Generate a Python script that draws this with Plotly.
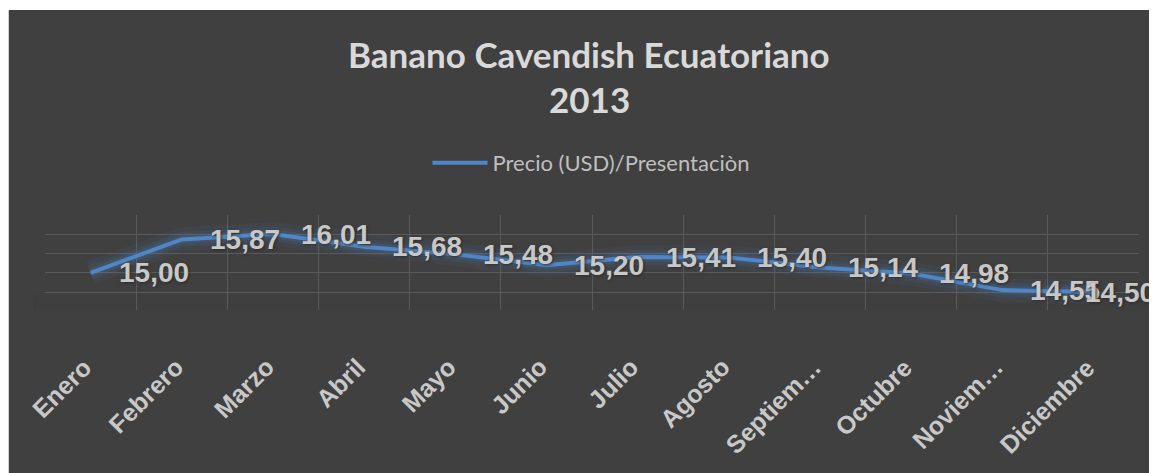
import plotly.graph_objects as go

# --- Data ---
months = ["Enero", "Febrero", "Marzo", "Abril", "Mayo", "Junio",
          "Julio", "Agosto", "Septiembre", "Octubre", "Noviembre", "Diciembre"]
month_labels = ["Enero", "Febrero", "Marzo", "Abril", "Mayo", "Junio",
                "Julio", "Agosto", "Septiem…", "Octubre", "Noviem…", "Diciembre"]
precio = [15.00, 15.87, 16.01, 15.68, 15.48, 15.20,
          15.41, 15.40, 15.14, 14.98, 14.55, 14.50]
grid_vals = [14.5, 15.0, 15.5, 16.0, 16.5]
title_lines = ["Banano Cavendish Ecuatoriano", "2013"]

# --- Layout constants (page pixels; the page body has an 8px margin) ---
OFF = 8
PAGE_W = 1157
VISIBLE_R = PAGE_W - OFF  # right edge that actually shows on screen
W, H = PAGE_W - OFF, 473 - OFF
PLOT_L, PLOT_R, PLOT_T, PLOT_B = 45, 1139, 215, 310
ML, MR = PLOT_L - OFF, W - (PLOT_R - OFF)
MT, MB = PLOT_T - OFF, H - (PLOT_B - OFF)
BG = "#404040"
GRID = "#5a5a5a"
LINE = "#4f86c8"
TXT = "#c8c8c8"
LABEL_FONT = dict(family="Liberation Sans, Arial", size=28, color=TXT,
                  weight="bold", shadow="1px 1px 3px #2a2a2a")
TICK_FONT = dict(family="Liberation Sans, Arial", size=25, color=TXT,
                 weight="bold")

plot_w = W - ML - MR
plot_h = H - MT - MB


def px_x(p):
    # page x -> paper fraction
    return (p - OFF - ML) / plot_w


def px_y(p):
    # page y -> paper fraction
    return (H - MB - (p - OFF)) / plot_h


fig = go.Figure()

# soft glow under the line
for width, alpha in [(24, 0.07), (15, 0.10), (9, 0.14)]:
    fig.add_trace(go.Scatter(
        x=months, y=precio, mode="lines",
        line=dict(color=f"rgba(79,134,200,{alpha})", width=width),
        hoverinfo="skip", showlegend=False))

fig.add_trace(go.Scatter(
    x=months, y=precio, mode="lines",
    name="Precio (USD)/Presentaciòn",
    line=dict(color=LINE, width=4),
    hoverinfo="x+y"))

shapes = [
    # thin white strip above the dark chart area, light left border
    dict(type="rect", xref="paper", yref="paper",
         x0=px_x(0), x1=px_x(1200), y0=px_y(10), y1=px_y(0),
         fillcolor="white", line=dict(width=0), layer="below"),
    dict(type="line", xref="paper", yref="paper",
         x0=px_x(8.5), x1=px_x(8.5), y0=px_y(480), y1=px_y(10),
         line=dict(color="#d0d0d0", width=1), layer="below"),
]
# fade the grid below the lowest gridline
for i in range(4):
    top_px = 292 + i * 4.5
    shapes.append(dict(type="rect", xref="paper", yref="paper",
                       x0=-0.01, x1=1.01, y0=px_y(PLOT_B + 1), y1=px_y(top_px),
                       fillcolor=BG, opacity=0.3, line=dict(width=0),
                       layer="between"))

annotations = []
for line_text, y_mid in zip(title_lines, [54, 99]):
    annotations.append(dict(
        text=f"<b>{line_text}</b>", xref="paper", yref="paper",
        x=px_x(589), y=px_y(y_mid), xanchor="center", yanchor="middle",
        showarrow=False,
        font=dict(family="Lato", size=35, color="#d9d9d9")))

# data labels to the right of each point, kept inside the chart like Excel does
cat_w = plot_w / len(months)
label_w = 66
for i, (m, v) in enumerate(zip(months, precio)):
    centre = PLOT_L + (i + 0.5) * cat_w
    shift = min(26, VISIBLE_R - label_w - centre)
    annotations.append(dict(
        x=m, y=v, xref="x", yref="y",
        text=f"{v:.2f}".replace(".", ","),
        xanchor="left", yanchor="middle", xshift=shift,
        showarrow=False, font=LABEL_FONT))

# rotated category labels
for m, lab in zip(months, month_labels):
    annotations.append(dict(
        x=m, y=px_y(350), xref="x", yref="paper",
        text=lab, textangle=-45,
        xanchor="right", yanchor="top", xshift=9,
        showarrow=False, font=TICK_FONT))

fig.update_layout(
    width=W, height=H,
    margin=dict(l=ML, r=MR, t=MT, b=MB, autoexpand=False),
    paper_bgcolor=BG,
    plot_bgcolor=BG,
    shapes=shapes,
    annotations=annotations,
    showlegend=True,
    legend=dict(
        orientation="h", x=px_x(591), xanchor="center",
        y=px_y(163), yanchor="middle",
        bgcolor="rgba(0,0,0,0)",
        font=dict(family="Lato", size=22, color="#bfbfbf"),
        itemwidth=55),
    xaxis=dict(
        type="category", categoryorder="array", categoryarray=months,
        range=[-0.5, len(months) - 0.5],
        tickson="boundaries", showgrid=True, gridcolor=GRID, gridwidth=1,
        ticks="", showticklabels=False, automargin=False,
        showline=False, zeroline=False, fixedrange=True),
    yaxis=dict(
        range=[14.5 - 18 / 38.5, 16.505], automargin=False,
        tickvals=grid_vals, showticklabels=False,
        showgrid=True, gridcolor=GRID, gridwidth=1,
        zeroline=False, showline=False, ticks="", fixedrange=True),
)

# the page would overflow by the body margin; hide the scrollbars it brings
fig.write_html("out.html", post_script="document.body.style.overflow='hidden';")
